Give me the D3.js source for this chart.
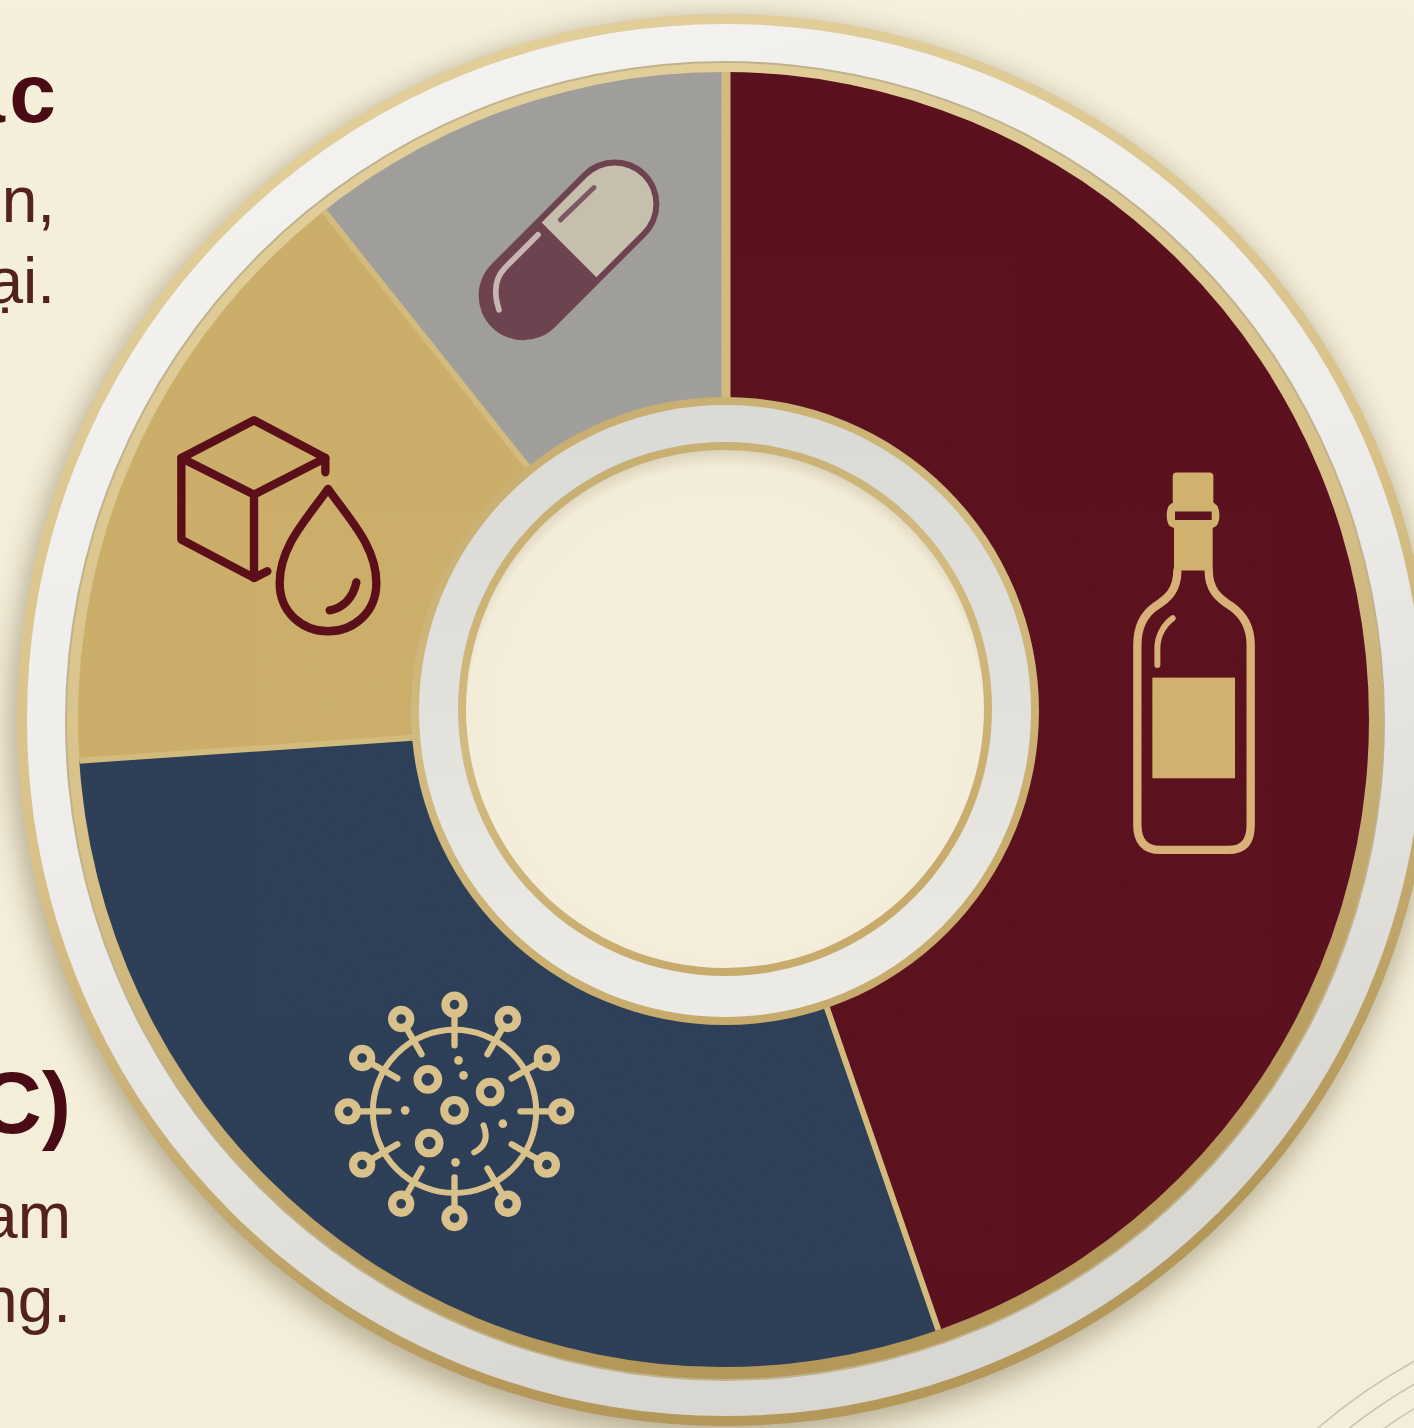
<!DOCTYPE html>
<html>
<head>
<meta charset="utf-8">
<script src="https://cdn.jsdelivr.net/npm/d3@7/dist/d3.min.js"></script>
<style>
html,body{margin:0;padding:0;background:#f5efdd;overflow:hidden}
svg{display:block}
text{font-family:"Liberation Sans",Arial,sans-serif}
</style>
</head>
<body>
<svg id="chart" width="1414" height="1428"></svg>
<script>
// Share of each category around the ring, clockwise from twelve o'clock
const categories = ["wine", "virus", "material", "drug"];
const shares = [44.7, 29.2, 15.4, 10.7];
const sliceColors = ["#590e1a", "#2b3c56", "#ccae68", "#9f9e9a"];
const dividerColor = "#d3bb7d";

// Visible ends of the side captions
const captionRows = [
  {text: "ác", right: 60, base: 122, size: 84, weight: 700, spacing: 4},
  {text: "n,", right: 55, base: 222, size: 64, weight: 400, spacing: 0},
  {text: "ại.", right: 55, base: 303, size: 64, weight: 400, spacing: 0},
  {text: "C)", right: 71, base: 1133, size: 88, weight: 700, spacing: 0},
  {text: "am", right: 71, base: 1238, size: 64, weight: 400, spacing: 0},
  {text: "ng.", right: 71, base: 1322, size: 64, weight: 400, spacing: 0}
];

const W = 1414, H = 1428;
const cx = 726, cy = 716;
const svg = d3.select("#chart");
const defs = svg.append("defs");

// Gradients and filters
function linear(id, x1, y1, x2, y2, stops) {
  const g = defs.append("linearGradient").attr("id", id)
    .attr("x1", x1).attr("y1", y1).attr("x2", x2).attr("y2", y2);
  stops.forEach(([o, c]) => g.append("stop").attr("offset", o).attr("stop-color", c));
}
linear("paper", 0, 0, 0, 1, [[0, "#f5efdc"], [1, "#f3edda"]]);
linear("band", 0, 0, 0.35, 1, [[0, "#f4f3f0"], [0.55, "#eeedea"], [1, "#d9d7d1"]]);
linear("hubBand", 0, 0, 0, 1, [[0, "#dadad6"], [0.5, "#e2e1dc"], [1, "#ecebe6"]]);
linear("goldRim", 0, 0, 0.3, 1, [[0, "#e3d19d"], [0.55, "#d8c28a"], [1, "#b4985a"]]);
linear("hubGold", 0, 0, 0.4, 1, [[0, "#c4aa6b"], [0.5, "#d2bb81"], [1, "#c7ab6c"]]);
const holeGrad = defs.append("radialGradient").attr("id", "hole")
  .attr("cx", 0.5).attr("cy", 0.53).attr("r", 0.53);
holeGrad.append("stop").attr("offset", 0.75).attr("stop-color", "#f5eedc");
holeGrad.append("stop").attr("offset", 0.94).attr("stop-color", "#f3ecd9");
holeGrad.append("stop").attr("offset", 1).attr("stop-color", "#dcd3bb");

defs.append("filter").attr("id", "soft").attr("x", "-10%").attr("y", "-10%")
  .attr("width", "120%").attr("height", "120%")
  .append("feGaussianBlur").attr("stdDeviation", 14);
const grain = defs.append("filter").attr("id", "grain");
grain.append("feTurbulence").attr("type", "fractalNoise").attr("baseFrequency", 0.7)
  .attr("numOctaves", 2).attr("seed", 4);
grain.append("feColorMatrix").attr("type", "saturate").attr("values", 0);

defs.append("clipPath").attr("id", "sliceClip").append("ellipse")
  .attr("cx", 723.5).attr("cy", 719.5).attr("rx", 645.5).attr("ry", 647.5);

// Paper background and the faint engraved curves in the corner
svg.append("rect").attr("width", W).attr("height", H).attr("fill", "url(#paper)");
[581, 561, 540].forEach(r => {
  svg.append("circle").attr("cx", 1695).attr("cy", 1870).attr("r", r)
    .attr("fill", "none").attr("stroke", "#bdb6a3").attr("stroke-width", 1.4).attr("opacity", .8);
});

// Disc shadow and outer white band
svg.append("ellipse").attr("cx", 722).attr("cy", 728).attr("rx", 712).attr("ry", 710)
  .attr("fill", "#7d6d4c").attr("opacity", .5).attr("filter", "url(#soft)");
svg.append("ellipse").attr("cx", 725).attr("cy", 720).attr("rx", 703).attr("ry", 701)
  .attr("fill", "url(#band)").attr("stroke", "url(#goldRim)").attr("stroke-width", 10);
svg.append("ellipse").attr("cx", 725).attr("cy", 721).attr("rx", 660).attr("ry", 660)
  .attr("fill", "#bfb28c");
svg.append("ellipse").attr("cx", 725).attr("cy", 721).attr("rx", 658).attr("ry", 658)
  .attr("fill", "url(#goldRim)");

// Ring slices from the shares
const pie = d3.pie().sort(null).value(d => d.share);
const pieData = pie(categories.map((c, i) => ({name: c, share: shares[i], color: sliceColors[i]})));
const arc = d3.arc().innerRadius(0).outerRadius(760);
const slices = svg.append("g").attr("clip-path", "url(#sliceClip)")
  .append("g").attr("transform", `translate(${cx},${cy})`);
slices.selectAll("path").data(pieData).join("path")
  .attr("d", arc).attr("fill", d => d.data.color);
slices.append("rect").attr("x", -760).attr("y", -760).attr("width", 1520).attr("height", 1520)
  .attr("filter", "url(#grain)").attr("opacity", .05);

// Gold dividers along each slice boundary
const dividerWidths = [6, 6, 6, 9];
slices.selectAll("line").data(pieData).join("line")
  .attr("x1", 0).attr("y1", 0)
  .attr("x2", d => 760 * Math.sin(d.endAngle))
  .attr("y2", d => -760 * Math.cos(d.endAngle))
  .attr("stroke", dividerColor)
  .attr("stroke-width", (d, i) => dividerWidths[i]);

// Central hub: gold edge, pale band, gold edge, cream hole
const hub = svg.append("g");
hub.append("circle").attr("cx", 725).attr("cy", 711).attr("r", 314).attr("fill", "url(#hubGold)");
hub.append("circle").attr("cx", 725).attr("cy", 711).attr("r", 306).attr("fill", "url(#hubBand)");
hub.append("circle").attr("cx", 725).attr("cy", 709).attr("r", 267).attr("fill", "url(#hubGold)");
hub.append("circle").attr("cx", 725).attr("cy", 709).attr("r", 259).attr("fill", "url(#hole)");

// Icons are sketched on a 3x grid, centred on their slice's mid-ring point
const iconRing = d3.arc().innerRadius(480).outerRadius(480);
function iconGroup(i, dx, dy, gridX, gridY) {
  const [mx, my] = iconRing.centroid(pieData[i]);
  return svg.append("g")
    .attr("transform", `translate(${cx + mx + dx},${cy + my + dy}) scale(${1 / 3}) translate(${-gridX},${-gridY})`)
    .attr("fill", "none").attr("stroke-linecap", "round").attr("stroke-linejoin", "round");
}

// Wine bottle
const bottle = iconGroup(0, -6, 25.5, 280, 636);
const bottleGold = "#d0b26e", bottleLine = "#d9b077";
bottle.append("path").attr("d", "M232,362 C232,420 205,445 165,470 C130,495 112,530 112,585 L112,1125 C112,1175 135,1200 180,1200 L385,1200 C430,1200 452,1175 452,1125 L452,585 C452,530 430,495 395,470 C355,445 326,420 326,362")
  .attr("stroke", bottleLine).attr("stroke-width", 25);
bottle.append("path").attr("d", "M172,645 L172,595 C172,560 190,525 218,505")
  .attr("stroke", bottleLine).attr("stroke-width", 18);
bottle.append("rect").attr("x", 218).attr("y", 68).attr("width", 122).attr("height", 95).attr("rx", 12).attr("fill", bottleGold);
bottle.append("path").attr("fill-rule", "evenodd").attr("fill", bottleGold)
  .attr("d", "M222,155 L338,155 L346,163 C362,170 362,222 346,230 L338,234 L338,362 L222,362 L222,234 L212,230 C196,222 196,170 212,163 Z M225,185 L225,210 L335,210 L335,185 Z");
bottle.append("rect").attr("x", 157).attr("y", 683).attr("width", 248).attr("height", 302).attr("fill", bottleGold);

// Virus particle
const virus = iconGroup(1, -6.7, -5, 403, 393);
const virusGold = "#d8c18a";
virus.attr("stroke", virusGold);
virus.append("circle").attr("cx", 403).attr("cy", 393).attr("r", 245).attr("stroke-width", 18);
d3.range(12).forEach(k => {
  const a = k * Math.PI / 6, s = Math.sin(a), c = Math.cos(a);
  virus.append("line")
    .attr("x1", 403 + 198 * s).attr("y1", 393 - 198 * c)
    .attr("x2", 403 + 295 * s).attr("y2", 393 - 295 * c)
    .attr("stroke-width", 19);
  virus.append("circle")
    .attr("cx", 403 + 320 * s).attr("cy", 393 - 320 * c)
    .attr("r", 27).attr("stroke-width", 25);
});
[[323, 297], [510, 335], [403, 390], [327, 488]].forEach(([x, y]) => {
  virus.append("circle").attr("cx", x).attr("cy", y).attr("r", 31).attr("stroke-width", 24);
});
[[415, 240], [430, 285], [255, 390], [548, 430], [406, 546]].forEach(([x, y]) => {
  virus.append("circle").attr("cx", x).attr("cy", y).attr("r", 13).attr("fill", virusGold).attr("stroke", "none");
});
virus.append("path").attr("d", "M490,435 Q512,490 462,516").attr("stroke-width", 18);

// Cube and droplet
const cube = iconGroup(2, -7, 2, 360, 375);
cube.attr("stroke", "#5b1019").attr("stroke-width", 25);
cube.append("path").attr("d", "M497,218 L497,175 L283,62 L65,175 L65,420 L283,535 L323,515");
cube.append("path").attr("d", "M65,175 L283,285 L497,175 M283,285 L283,535");
cube.append("path").attr("d", "M505,268 C440,360 360,440 360,550 C360,640 430,695 505,695 C580,695 650,640 650,550 C650,440 570,360 505,268 Z");
cube.append("path").attr("d", "M590,548 C580,595 550,625 510,632");

// Capsule
const capsule = iconGroup(3, 2, -13, 330, 330);
const capsuleBody = capsule.append("g").attr("transform", "translate(328,330) rotate(-45)");
capsuleBody.append("rect").attr("x", -328).attr("y", -134).attr("width", 656).attr("height", 268).attr("rx", 134).attr("fill", "#6e4350");
capsuleBody.append("path").attr("d", "M0,-116 L194,-116 A116,116 0 0 1 194,116 L0,116 Z").attr("fill", "#c6bfae");
capsule.append("path").attr("d", "M403,143 L302,240").attr("stroke", "#7c5a63").attr("stroke-width", 15);
capsule.append("path").attr("d", "M235,285 L135,385 Q92,430 118,510").attr("stroke", "#c9b6b3").attr("stroke-width", 17);

// Captions
svg.append("g").selectAll("text").data(captionRows).join("text")
  .attr("x", d => d.right).attr("y", d => d.base)
  .attr("text-anchor", "end")
  .attr("letter-spacing", d => d.spacing)
  .attr("font-size", d => d.size).attr("font-weight", d => d.weight)
  .attr("fill", d => d.weight === 700 ? "#4a0c14" : "#53211f")
  .text(d => d.text);
</script>
</body>
</html>
